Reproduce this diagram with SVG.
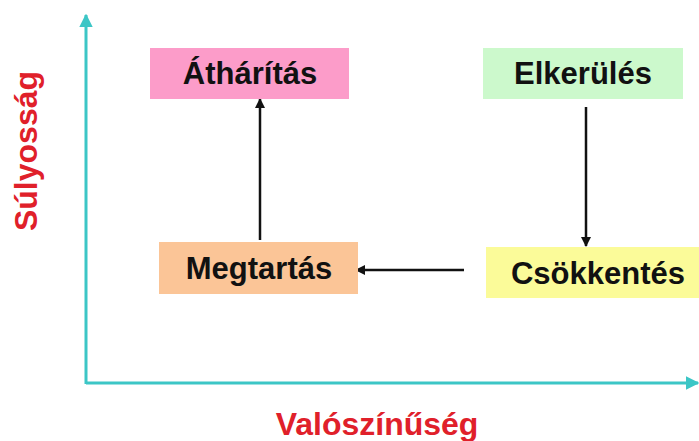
<svg xmlns="http://www.w3.org/2000/svg" width="699" height="441" viewBox="0 0 699 441">
  <style>
    .lbl { font-family: "Liberation Sans", Arial, sans-serif; font-weight: bold; font-size: 31px; fill: #111; text-anchor: middle; }
    .axl { font-family: "Liberation Sans", Arial, sans-serif; font-weight: bold; font-size: 32px; fill: #e0202a; text-anchor: middle; }
    .axis { stroke: #3cc6c6; stroke-width: 3; fill: none; }
    .conn { stroke: #111; stroke-width: 2.5; fill: none; }
  </style>
  <defs>
    <marker id="axhead" viewBox="0 0 10 10" refX="9" refY="5" markerWidth="4.5" markerHeight="4.5" orient="auto" markerUnits="strokeWidth">
      <path d="M0,0 L10,5 L0,10 z" fill="#3cc6c6"/>
    </marker>
    <marker id="head" viewBox="0 0 10 10" refX="9" refY="5" markerWidth="4" markerHeight="4" orient="auto" markerUnits="strokeWidth">
      <path d="M0,0 L10,5 L0,10 z" fill="#111"/>
    </marker>
  </defs>

  <g id="axes">
    <line class="axis" x1="86" y1="384" x2="86" y2="15" marker-end="url(#axhead)"/>
    <line class="axis" x1="86" y1="383" x2="698" y2="383" marker-end="url(#axhead)"/>
  </g>
  <text class="axl" transform="translate(37,151) rotate(-90)">Súlyosság</text>
  <text class="axl" x="377" y="435">Valószínűség</text>

  <g id="connectors">
    <line class="conn" x1="260" y1="240" x2="260" y2="99" marker-end="url(#head)"/>
    <line class="conn" x1="586" y1="107" x2="586" y2="246" marker-end="url(#head)"/>
    <line class="conn" x1="464" y1="270" x2="356" y2="270" marker-end="url(#head)"/>
  </g>

  <g id="atharitas">
    <rect x="150" y="48" width="199" height="51" fill="#fc9cc9"/>
    <text class="lbl" x="250" y="84">Áthárítás</text>
  </g>
  <g id="elkerules">
    <rect x="483" y="48" width="200" height="51" fill="#ccf9cc"/>
    <text class="lbl" x="583" y="84">Elkerülés</text>
  </g>
  <g id="megtartas">
    <rect x="159" y="242" width="199" height="52" fill="#fbc597"/>
    <text class="lbl" x="259" y="279">Megtartás</text>
  </g>
  <g id="csokkentes">
    <rect x="486" y="247" width="213" height="51" fill="#fbfb99"/>
    <text class="lbl" x="598" y="284">Csökkentés</text>
  </g>
</svg>
